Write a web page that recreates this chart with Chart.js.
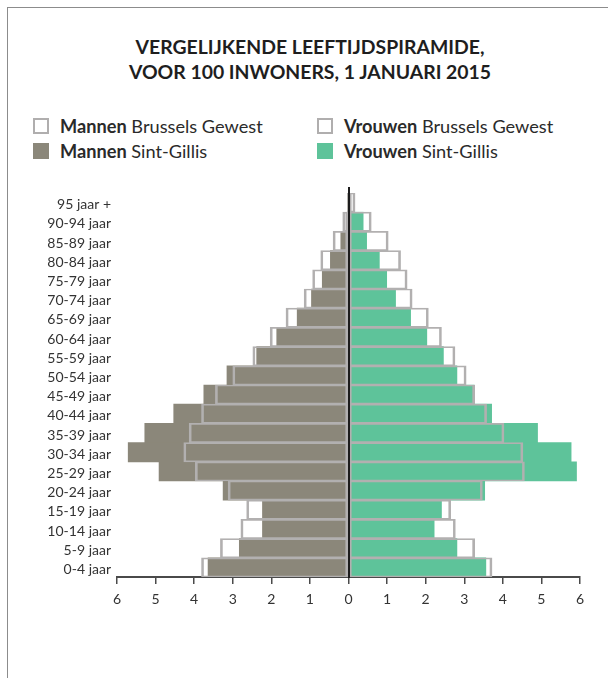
<!DOCTYPE html>
<html>
<head>
<meta charset="utf-8">
<script src="https://cdn.jsdelivr.net/npm/chart.js@4.4.1/dist/chart.umd.min.js"></script>
<style>
  html, body { margin:0; padding:0; background:#fff; }
  body { width:608px; height:678px; position:relative; overflow:hidden; font-family: Lato, "Open Sans", sans-serif; }
  #frame { position:absolute; left:7px; top:7px; right:0; bottom:0; border-top:1px solid #8c8c8c; border-left:1px solid #8c8c8c; }
  #title { position:absolute; left:0; top:34px; width:620px; text-align:center; font-weight:700; font-size:19.4px; line-height:25px; color:#1e1e1e; }
  .leg { position:absolute; font-size:18.2px; color:#2a2a2a; line-height:20px; white-space:nowrap; }
  .leg b { font-weight:700; }
  .sw { position:absolute; width:16px; height:16px; box-sizing:border-box; }
  #wrap { position:absolute; left:0; top:0; width:608px; height:678px; }
</style>
</head>
<body>
<div id="frame"></div>
<div id="title">VERGELIJKENDE LEEFTIJDSPIRAMIDE,<br>VOOR 100 INWONERS, 1 JANUARI 2015</div>
<div id="legend"></div>
<div id="wrap"><canvas id="c" width="608" height="678"></canvas></div>
<script>
// ---- data (top row first) ----
const ageGroups = ['95 jaar +','90-94 jaar','85-89 jaar','80-84 jaar','75-79 jaar','70-74 jaar','65-69 jaar','60-64 jaar','55-59 jaar','50-54 jaar','45-49 jaar','40-44 jaar','35-39 jaar','30-34 jaar','25-29 jaar','20-24 jaar','15-19 jaar','10-14 jaar','5-9 jaar','0-4 jaar'];
const menBrussels   = [0.03,0.15,0.40,0.72,0.93,1.15,1.62,2.03,2.48,3.00,3.45,3.81,4.13,4.27,3.97,3.12,2.64,2.79,3.32,3.81];
const menSintGillis = [0.01,0.04,0.20,0.47,0.68,0.96,1.33,1.86,2.38,3.15,3.75,4.53,5.28,5.71,4.91,3.25,2.23,2.23,2.83,3.64];
const womenBrussels   = [0.17,0.59,1.03,1.35,1.52,1.65,2.07,2.41,2.76,3.05,3.27,3.58,4.03,4.52,4.56,3.47,2.65,2.77,3.27,3.72];
const womenSintGillis = [0.04,0.38,0.47,0.80,0.99,1.22,1.61,2.03,2.46,2.81,3.26,3.71,4.90,5.77,5.91,3.53,2.41,2.22,2.81,3.56];
const xTickValues = [-6,-5,-4,-3,-2,-1,0,1,2,3,4,5,6];
const legendItems = [
  {bold:'Mannen', rest:' Brussels Gewest', kind:'outline'},
  {bold:'Vrouwen', rest:' Brussels Gewest', kind:'outline'},
  {bold:'Mannen', rest:' Sint-Gillis', kind:'men'},
  {bold:'Vrouwen', rest:' Sint-Gillis', kind:'women'}
];

const MEN = '#8b877a', WOMEN = '#5ec39a', OUTLINE = '#b2b0b0';

// legend (HTML, mixed bold/regular)
const legPos = [[33,118],[317,118],[33,143],[317,143]];
const legEl = document.getElementById('legend');
legendItems.forEach((it,i)=>{
  const [x,y] = legPos[i];
  const sw = document.createElement('div');
  sw.className='sw';
  sw.style.left=x+'px'; sw.style.top=y+'px';
  if (it.kind==='outline') { sw.style.border='2px solid #b0aeae'; sw.style.background='#fff'; }
  else sw.style.background = it.kind==='men'?MEN:WOMEN;
  legEl.appendChild(sw);
  const t = document.createElement('div');
  t.className='leg';
  t.style.left=(x+27)+'px'; t.style.top=(y-2)+'px';
  t.innerHTML='<b>'+it.bold+'</b>'+it.rest;
  legEl.appendChild(t);
});

const neg = a => a.map(v => -v);
const outlineStyle = {
  backgroundColor:'rgba(0,0,0,0)', borderColor:OUTLINE,
  borderWidth:{top:1,bottom:1,left:2,right:2}, borderSkipped:false,
  categoryPercentage:1, barPercentage:1, grouped:false
};
const fillStyle = { borderWidth:0, categoryPercentage:1, barPercentage:1, grouped:false };

const zeroLine = {
  id:'zeroLine',
  afterDatasetsDraw(chart){
    const {ctx, chartArea, scales} = chart;
    const x = Math.round(scales.x.getPixelForValue(0));
    ctx.save();
    ctx.strokeStyle='#1c1c1c'; ctx.lineWidth=2;
    ctx.beginPath(); ctx.moveTo(x, chartArea.top-6); ctx.lineTo(x, chartArea.bottom+1); ctx.stroke();
    ctx.restore();
  }
};

new Chart(document.getElementById('c'), {
  type:'bar',
  data:{
    labels: ageGroups,
    datasets:[
      Object.assign({label:'Mannen Brussels Gewest', data:neg(menBrussels)}, outlineStyle),
      Object.assign({label:'Vrouwen Brussels Gewest', data:womenBrussels}, outlineStyle),
      Object.assign({label:'Mannen Sint-Gillis', data:neg(menSintGillis), backgroundColor:MEN}, fillStyle),
      Object.assign({label:'Vrouwen Sint-Gillis', data:womenSintGillis, backgroundColor:WOMEN}, fillStyle)
    ]
  },
  options:{
    indexAxis:'y',
    responsive:false,
    animation:false,
    devicePixelRatio:1,
    layout:{padding:{top:193,left:0,right:28,bottom:61}},
    plugins:{legend:{display:false}, tooltip:{enabled:false}, title:{display:false}},
    scales:{
      x:{
        min:-6, max:6,
        afterBuildTicks(scale){ scale.ticks = xTickValues.map(v=>({value:v})); },
        afterFit(scale){ scale.height = 40; },
        grid:{drawOnChartArea:false, drawTicks:true, tickLength:7, color:'#4a4a4a', lineWidth:1.5},
        border:{display:true, color:'#4a4a4a', width:2},
        ticks:{padding:7, color:'#333', font:{family:'Lato', size:14}, callback:v=>String(Math.abs(v))}
      },
      y:{
        afterFit(scale){ scale.width = 117; },
        grid:{display:false, drawTicks:false},
        border:{display:false},
        ticks:{padding:6, labelOffset:2, color:'#333', font:{family:'Lato', size:14}, autoSkip:false}
      }
    }
  },
  plugins:[zeroLine]
});
</script>
</body>
</html>
